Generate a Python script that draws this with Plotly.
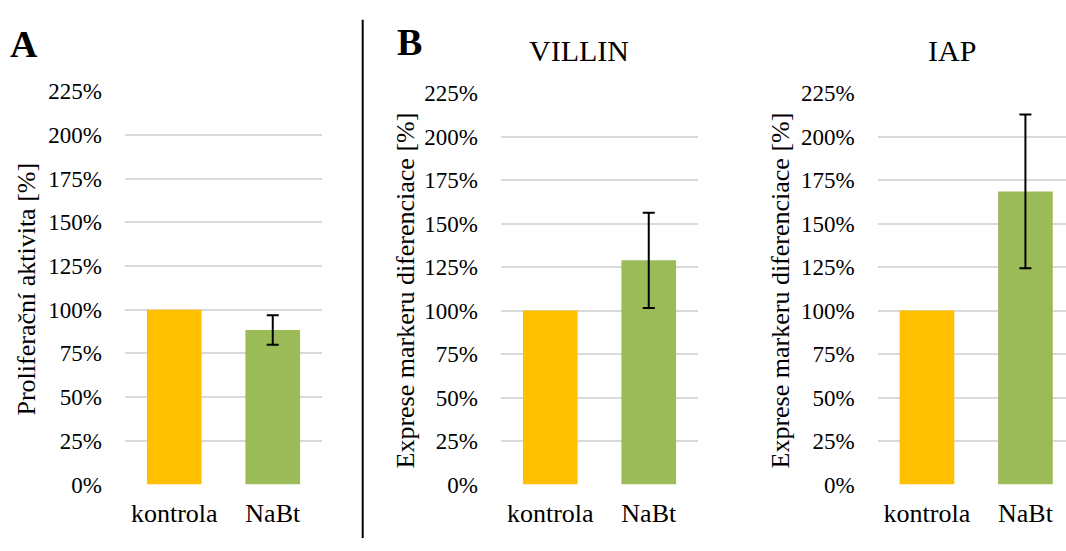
import plotly.graph_objects as go

categories = ["kontrola", "NaBt"]
prolif_values = [1.00, 0.884]
prolif_err = [0.0, 0.085]
villin_values = [1.00, 1.289]
villin_err = [0.0, 0.274]
iap_values = [1.00, 1.685]
iap_err = [0.0, 0.442]

y_ticks = [0, 0.25, 0.5, 0.75, 1.0, 1.25, 1.5, 1.75, 2.0, 2.25]
y_ticktext = ["0%", "25%", "50%", "75%", "100%", "125%", "150%", "175%", "200%", "225%"]

colors = ["#FFC000", "#9BBB59"]
W, H = 1066, 551
FONT = "Liberation Serif"

fig = go.Figure()

panels = [
    (prolif_values, prolif_err, "x", "y"),
    (villin_values, villin_err, "x2", "y2"),
    (iap_values, iap_err, "x3", "y3"),
]
for vals, errs, xa, ya in panels:
    for i, cat in enumerate(categories):
        kw = {}
        if errs[i] > 0:
            kw["error_y"] = dict(type="data", array=[errs[i]], visible=True,
                                 color="black", thickness=2, width=6)
        fig.add_trace(go.Bar(x=[cat], y=[vals[i]], marker=dict(color=colors[i], line=dict(width=0)),
                             xaxis=xa, yaxis=ya, showlegend=False, **kw))

def px_x(p):
    return p / W

def px_y(p):
    return 1 - p / H

xcommon = dict(type="category", categoryorder="array", categoryarray=categories,
               showgrid=False, zeroline=False, showline=False, ticks="",
               tickfont=dict(family=FONT, size=26, color="black"), ticklabelstandoff=10,
               fixedrange=True)
ycommon = dict(range=[0, 2.25], tickvals=y_ticks, ticktext=y_ticktext,
               showgrid=True, gridcolor="#d9d9d9", gridwidth=1.5, zeroline=False,
               showline=False, ticks="", tickfont=dict(family=FONT, size=23, color="black"),
               ticklabelstandoff=22, fixedrange=True)

fig.update_layout(
    width=W, height=H,
    margin=dict(l=0, r=0, t=0, b=0),
    paper_bgcolor="white", plot_bgcolor="white",
    font=dict(family=FONT, color="black"),
    barmode="overlay", bargap=0.445,
    xaxis=dict(domain=[px_x(125), px_x(322)], anchor="y", range=[-0.5, 1.5], **xcommon),
    yaxis=dict(domain=[px_y(495), px_y(83)], anchor="x", **ycommon),
    xaxis2=dict(domain=[px_x(501), px_x(698)], anchor="y2", range=[-0.5, 1.5], **xcommon),
    yaxis2=dict(domain=[px_y(495), px_y(85)], anchor="x2", **ycommon),
    xaxis3=dict(domain=[px_x(877.7), 1.0], anchor="y3", range=[-0.5, 1.412], **xcommon),
    yaxis3=dict(domain=[px_y(495), px_y(85)], anchor="x3", **ycommon),
)

ann = [
    dict(text="<b>A</b>", x=px_x(24), y=px_y(33), size=38),
    dict(text="<b>B</b>", x=px_x(409.7), y=px_y(31.3), size=38),
    dict(text="VILLIN", x=px_x(578.8), y=px_y(40.7), size=30),
    dict(text="IAP", x=px_x(951.7), y=px_y(40.7), size=30),
]
for a in ann:
    fig.add_annotation(text=a["text"], x=a["x"], y=a["y"], xref="paper", yref="paper",
                       xanchor="center", yanchor="middle", showarrow=False,
                       font=dict(family=FONT, size=a["size"], color="black"))

axis_titles = [
    ("Proliferační aktivita [%]", 26.7, 290),
    ("Exprese markeru diferenciace [%]", 405, 291.7),
    ("Exprese markeru diferenciace [%]", 780, 291.7),
]
for t, xp, yp in axis_titles:
    fig.add_annotation(text=t, x=px_x(xp), y=px_y(yp), xref="paper", yref="paper",
                       xanchor="center", yanchor="middle", textangle=-90, showarrow=False,
                       font=dict(family=FONT, size=26, color="black"))

fig.add_shape(type="line", xref="paper", yref="paper",
              x0=px_x(362.7), x1=px_x(362.7), y0=px_y(8), y1=0,
              line=dict(color="black", width=2))

fig.write_html("out.html", config={"displayModeBar": False},
               post_script="document.body.style.margin='0';")
